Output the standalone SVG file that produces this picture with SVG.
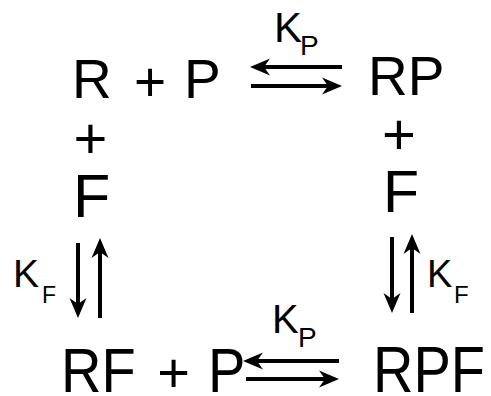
<svg xmlns="http://www.w3.org/2000/svg" width="491" height="396" viewBox="0 0 491 396">
<defs>
<style>
text{font-family:"Liberation Sans",Arial,sans-serif;fill:#000}
.big{font-size:55px}
.lab{font-size:42px}
.sub{font-size:28px}
.arr{stroke:#000;stroke-width:4;fill:none;marker-end:url(#ah)}
</style>
<marker id="ah" viewBox="-14 -10 24 20" refX="0" refY="0" markerWidth="24" markerHeight="20" markerUnits="userSpaceOnUse" orient="auto">
<path d="M8,0 L-12,-8.5 L-6,0 L-12,8.5 Z" fill="#000"/>
</marker>
</defs>
<rect width="491" height="396" fill="#fff"/>
<g id="node-R-P">
<text class="big" x="72" y="98">R</text>
<text class="big" x="150" y="101" text-anchor="middle">+</text>
<text class="big" x="184" y="98">P</text>
</g>
<g id="node-RP">
<text class="big" x="368" y="95">RP</text>
</g>
<g id="node-plusF-left">
<text x="90.5" y="158" font-size="58" text-anchor="middle">+</text>
<text x="73" y="217" font-size="61">F</text>
</g>
<g id="node-plusF-right">
<text x="399" y="154" font-size="58" text-anchor="middle">+</text>
<text x="383" y="212" font-size="59">F</text>
</g>
<g id="node-RF-P">
<text font-size="56" transform="translate(61,392) scale(1,1.13)">RF</text>
<text font-size="56" transform="translate(173.5,392)" text-anchor="middle">+</text>
<text font-size="56" transform="translate(208,392) scale(1,1.13)">P</text>
</g>
<g id="node-RPF">
<text font-size="56" transform="translate(373,392) scale(1,1.17)">RPF</text>
</g>
<g id="connectors">
<line class="arr" x1="342" y1="67" x2="258" y2="67"/>
<line class="arr" x1="251" y1="86" x2="334" y2="86"/>
<line class="arr" x1="339" y1="361" x2="251" y2="361"/>
<line class="arr" x1="246" y1="379" x2="331" y2="379"/>
<line class="arr" x1="78" y1="243" x2="78" y2="310"/>
<line class="arr" x1="100" y1="318" x2="100" y2="246"/>
<line class="arr" x1="392" y1="237" x2="392" y2="305"/>
<line class="arr" x1="412" y1="313" x2="412" y2="242"/>
</g>
<g id="labels">
<text class="lab" x="274" y="42">K</text>
<text class="sub" x="300" y="55">P</text>
<text x="272" y="333" font-size="40">K</text>
<text class="sub" x="298" y="347">P</text>
<text x="13" y="287" font-size="39">K</text>
<text x="42" y="303" font-size="23">F</text>
<text x="427" y="287" font-size="38">K</text>
<text x="454" y="303" font-size="24">F</text>
</g>
</svg>
